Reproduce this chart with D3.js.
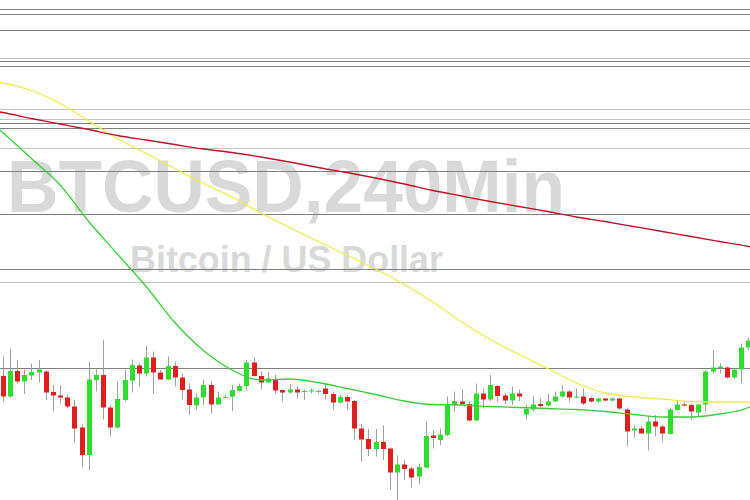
<!DOCTYPE html>
<html><head><meta charset="utf-8">
<script src="https://cdn.jsdelivr.net/npm/d3@7"></script>
<style>html,body{margin:0;padding:0;background:#fff;overflow:hidden}</style>
</head><body><svg id="chart" width="750" height="500"></svg>
<script>
const title = "BTCUSD,240Min";
const subtitle = "Bitcoin / US Dollar";

const open = [6248,6207,6258,6237,6249,6255,6257,6216,6209,6205,
6187,6145,6090,6240,6250,6185,6145,6200,6239,6269,
6253,6285,6255,6241,6268,6245,6221,6189,6205,6230,
6191,6205,6207,6218,6228,6275,6248,6235,6242,6220,
6215,6221,6218,6218,6218,6223,6212,6195,6206,6198,
6143,6122,6102,6116,6103,6055,6071,6063,6047,6065,
6129,6120,6130,6191,6197,6192,6159,6213,6201,6228,
6209,6199,6213,6171,6181,6192,6189,6197,6207,6217,
6206,6207,6204,6197,6203,6199,6203,6181,6139,6143,
6133,6157,6147,6132,6180,6191,6190,6175,6191,6257,
6264,6265,6245,6261,6305];

const high = [6287,6303,6280,6261,6273,6280,6259,6230,6230,6210,
6200,6151,6277,6261,6320,6190,6237,6261,6281,6273,
6308,6297,6260,6287,6277,6253,6233,6213,6241,6237,
6217,6210,6230,6233,6280,6285,6257,6256,6250,6221,
6232,6227,6221,6223,6221,6233,6217,6210,6210,6200,
6152,6142,6142,6149,6105,6089,6080,6067,6073,6157,
6140,6143,6207,6217,6221,6197,6233,6223,6250,6230,
6213,6227,6221,6190,6208,6203,6213,6217,6230,6220,
6223,6223,6207,6205,6204,6205,6205,6185,6150,6148,
6167,6170,6150,6185,6200,6198,6193,6193,6260,6300,
6273,6267,6263,6313,6324];

const low = [6197,6205,6233,6212,6240,6235,6200,6177,6193,6183,
6115,6065,6059,6217,6161,6127,6143,6197,6215,6227,
6247,6212,6240,6240,6227,6201,6170,6180,6190,6173,
6190,6203,6178,6217,6219,6247,6221,6234,6212,6197,
6213,6203,6200,6213,6213,6201,6180,6193,6180,6120,
6077,6088,6087,6080,6020,6000,6040,6025,6032,6064,
6103,6110,6128,6177,6190,6157,6158,6183,6198,6197,
6192,6190,6198,6161,6177,6185,6188,6196,6205,6197,
6203,6190,6195,6195,6197,6197,6180,6108,6125,6132,
6099,6127,6117,6131,6179,6187,6160,6167,6177,6253,
6253,6243,6243,6233,6300];

const close = [6207,6258,6237,6250,6256,6261,6215,6209,6205,6187,
6143,6090,6241,6250,6185,6145,6202,6240,6270,6253,
6285,6255,6241,6268,6245,6220,6190,6205,6230,6191,
6205,6206,6220,6228,6275,6248,6235,6243,6219,6215,
6221,6215,6218,6219,6218,6212,6195,6206,6197,6143,
6121,6102,6116,6102,6055,6071,6062,6045,6066,6128,
6124,6131,6192,6198,6192,6159,6213,6201,6230,6208,
6199,6213,6207,6182,6191,6188,6197,6207,6217,6205,
6207,6193,6197,6203,6199,6203,6183,6137,6143,6133,
6157,6147,6133,6181,6191,6189,6177,6191,6257,6265,
6267,6245,6261,6305,6319];

const maIndex = [-0.4,0,4,8,12,16,20,24,28,32,36,40,44,48,52,56,60,64,68,72,76,80,84,88,92,96,100,104,104.3];
const maYellow = [6835,6834,6819,6793,6758,6723,6693,6663,6633,6606,6574,6545,6517,6490,6462,6431,6396,6356,6321,6291,6263,6234,6214,6206,6202,6197,6196,6196,6196];
const maRed = [6776,6775,6763,6752,6741,6729,6720,6711,6702,6695,6686,6676,6665,6655,6644,6632,6619,6608,6597,6587,6577,6566,6557,6547,6537,6527,6517,6507,6506];
const maGreen = [6740,6735,6683,6630,6557,6492,6427,6355,6299,6260,6240,6242,6235,6223,6211,6198,6191,6190,6187,6185,6183,6181,6177,6171,6166,6166,6172,6185,6187];

const majorLevels = [6981,6971,6939,6878,6868,6754,6744,6658,6572,6462,6264];
const minorLevels = [6884,6782,6762,6704,6436];

const W = 750, H = 500;
const svg = d3.select("#chart");
const x = d3.scaleLinear().domain([0, 104]).range([2.7, 748.4]);
const y = d3.scaleLinear().domain([6000, 7000]).range([500, 0]);

svg.append("rect").attr("width", W).attr("height", H).attr("fill", "#fff");

const wm = svg.append("g").attr("fill", "#d9d9d9")
  .attr("font-family", "'Liberation Sans', Arial, sans-serif").attr("font-weight", "bold");
wm.append("text").attr("x", 7).attr("y", 212).attr("font-size", 75)
  .attr("textLength", 558).attr("lengthAdjust", "spacingAndGlyphs").text(title);
wm.append("text").attr("x", 130).attr("y", 272).attr("font-size", 37)
  .attr("textLength", 313).attr("lengthAdjust", "spacingAndGlyphs").text(subtitle);

const lv = svg.append("g").attr("shape-rendering", "crispEdges");
lv.selectAll(".minor").data(minorLevels).join("line").attr("class", "minor")
  .attr("x1", 0).attr("x2", W).attr("y1", d => y(d)).attr("y2", d => y(d))
  .attr("stroke", "#c4c4c4").attr("stroke-width", 1);
lv.selectAll(".major").data(majorLevels).join("line").attr("class", "major")
  .attr("x1", 0).attr("x2", W).attr("y1", d => y(d)).attr("y2", d => y(d))
  .attr("stroke", "#808080").attr("stroke-width", 1);

const candles = d3.range(open.length).map(i => ({i, o: open[i], h: high[i], l: low[i], c: close[i]}));
const cg = svg.append("g");
cg.selectAll(".wick").data(candles).join("line").attr("class", "wick")
  .attr("x1", d => Math.round(x(d.i)) + 0.5).attr("x2", d => Math.round(x(d.i)) + 0.5)
  .attr("y1", d => y(d.h)).attr("y2", d => y(d.l))
  .attr("stroke", "#a0a0a0").attr("stroke-width", 1);
cg.selectAll(".body").data(candles).join("rect").attr("class", "body")
  .attr("x", d => Math.round(x(d.i)) - 2)
  .attr("width", 5)
  .attr("y", d => y(Math.max(d.o, d.c)))
  .attr("height", d => Math.max(1, Math.abs(y(d.o) - y(d.c))))
  .attr("fill", d => d.c >= d.o ? "#2fdc2f" : "#e01e1e");

const ma = (vals) => maIndex.map((k, j) => [k, vals[j]]);
const line = d3.line().x(d => x(d[0])).y(d => y(d[1])).curve(d3.curveMonotoneX);
const mg = svg.append("g").attr("fill", "none");
mg.append("path").attr("d", line(ma(maYellow))).attr("stroke", "#f0ec50").attr("stroke-width", 1.3);
mg.append("path").attr("d", line(ma(maRed))).attr("stroke", "#c0102a").attr("stroke-width", 1.3);
mg.append("path").attr("d", line(ma(maGreen))).attr("stroke", "#3ccc3c").attr("stroke-width", 1.3);
</script></body></html>
